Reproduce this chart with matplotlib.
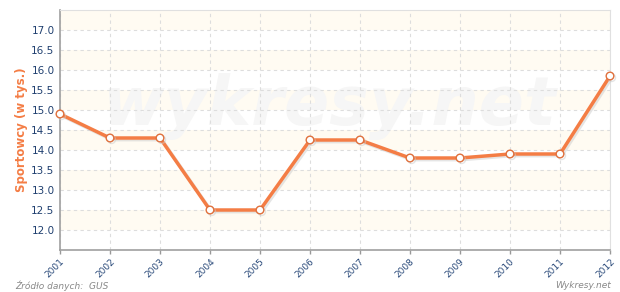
import matplotlib
matplotlib.use("Agg")
import matplotlib.pyplot as plt
import matplotlib.patheffects as pe

# data
years = ["2001", "2002", "2003", "2004", "2005", "2006",
         "2007", "2008", "2009", "2010", "2011", "2012"]
values = [14.9, 14.3, 14.3, 12.5, 12.5, 14.25, 14.25, 13.8, 13.8, 13.9, 13.9, 15.85]
yticks = [12.0, 12.5, 13.0, 13.5, 14.0, 14.5, 15.0, 15.5, 16.0, 16.5, 17.0]

W, H = 620, 292
fig = plt.figure(figsize=(W / 100, H / 100), dpi=100)
ax = fig.add_axes([60 / W, (H - 250) / H, 550 / W, 240 / H])

ax.set_xlim(0, len(years) - 1)
ax.set_ylim(11.5, 17.5)

# alternating background bands
for lo in [12.0, 13.0, 14.0, 15.0, 16.0, 17.0]:
    ax.axhspan(lo, lo + 0.5, color="#fffbf2", zorder=0, lw=0)

# watermark (under the grid)
ax.text(0.49, 0.60, "wykresy.net", transform=ax.transAxes, fontsize=48,
        fontweight="bold", style="italic", color="#f6f6f6",
        ha="center", va="center", zorder=0.5)

ax.grid(True, color="#dddddd", linestyle=(0, (3, 3)), linewidth=0.8, zorder=1)
ax.set_axisbelow(True)

x = range(len(years))
ax.plot(x, values, color="#f47d45", lw=2.5, zorder=3,
        marker="o", markersize=5.5, markerfacecolor="white",
        markeredgecolor="#e0703c", markeredgewidth=1.0, clip_on=False,
        path_effects=[pe.SimpleLineShadow(offset=(1.2, -1.2), shadow_color="#cccccc", alpha=0.5),
                      pe.Normal()])

ax.set_xticks(list(x))
ax.set_xticklabels(years, rotation=45, ha="right", va="top", rotation_mode="anchor",
                   fontsize=6.5, color="#2a4a7a")
ax.set_yticks(yticks)
ax.set_yticklabels([f"{v:.1f}" for v in yticks], fontsize=7.5, color="#1f3f6f")
ax.tick_params(axis="x", length=3, color="#999999", width=1, pad=2)
ax.tick_params(axis="y", length=0, pad=4)

for s in ["top", "right"]:
    ax.spines[s].set_color("#e0e0e0")
for s in ["left", "bottom"]:
    ax.spines[s].set_color("#a0a0a0")
    ax.spines[s].set_linewidth(1.2)

ax.set_ylabel("Sportowcy (w tys.)", color="#f47d45", fontsize=8.5,
              fontweight="bold", labelpad=2)

fig.text(15 / W, (H - 286) / H, "Źródło danych:  GUS", fontsize=6.5,
         style="italic", color="#888888", ha="left", va="center")
fig.text(611 / W, (H - 286) / H, "Wykresy.net", fontsize=6.5,
         style="italic", color="#888888", ha="right", va="center")

fig.savefig("out.png", dpi=100)
